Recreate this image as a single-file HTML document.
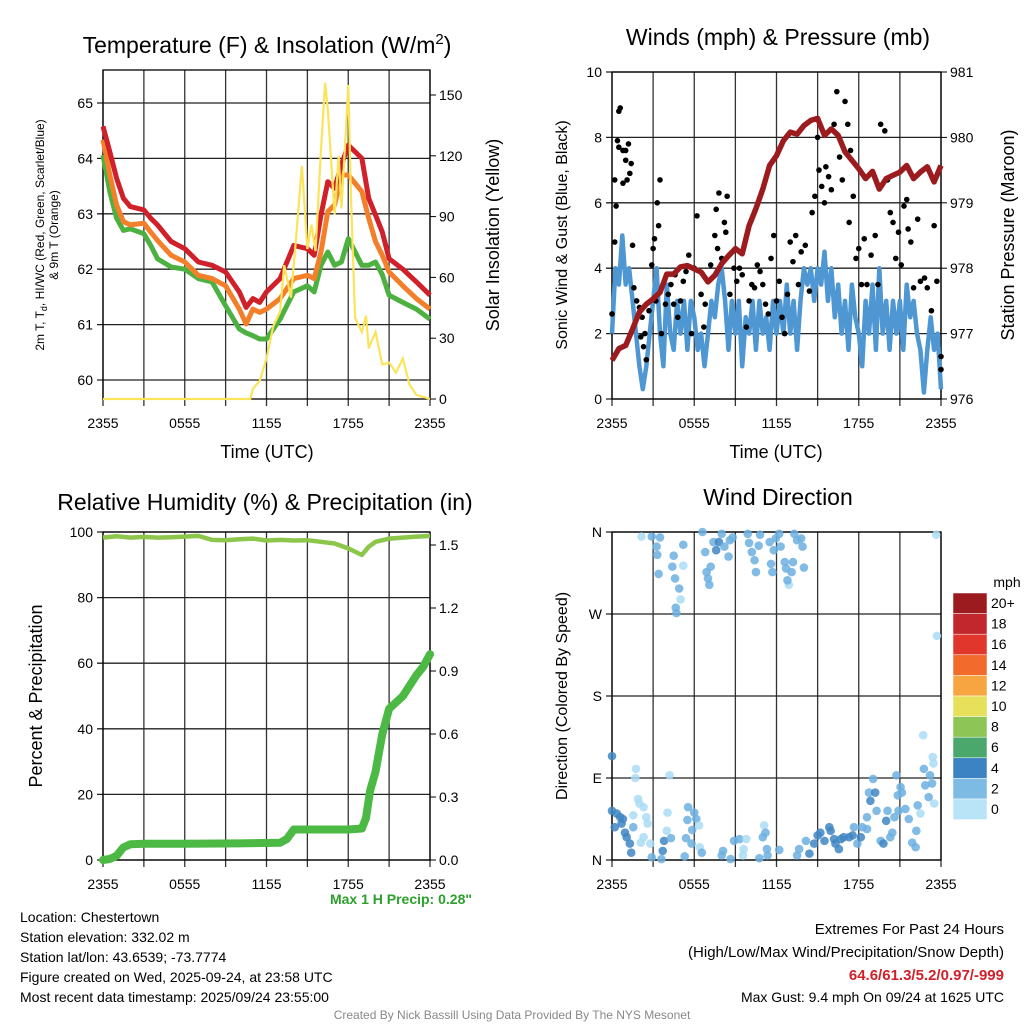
<!DOCTYPE html>
<html><head><meta charset="utf-8"><style>
html,body{margin:0;padding:0;background:#fff;}
svg{display:block;font-family:"Liberation Sans",sans-serif;}
</style></head><body>
<svg id="c" width="1024" height="1024" viewBox="0 0 1024 1024"></svg>
<script>
// ---------- DATA ----------
const tempHours=[0,0.5,1,1.5,2,3,3.5,4,5,6,7,8,9,10,10.5,11,11.5,12,13,14,15,15.5,16,16.5,17,17.5,18,19,19.5,20,20.5,21,22,23,24];
const tempRed=[64.58,64.12,63.64,63.28,63.13,63.07,62.92,62.8,62.5,62.37,62.13,62.07,61.95,61.59,61.31,61.47,61.4,61.59,61.83,62.43,62.37,62.25,62.98,63.58,63.46,63.88,64.24,64.0,63.28,62.98,62.67,62.19,62.0,61.77,61.53];
const tempOrange=[64.34,63.7,63.16,62.86,62.8,62.83,62.67,62.52,62.25,62.13,61.89,61.83,61.7,61.28,61.01,61.28,61.22,61.28,61.47,61.83,61.89,61.83,62.31,63.04,63.16,63.7,63.7,63.4,62.92,62.5,62.25,61.95,61.7,61.47,61.28];
const tempGreen=[64.06,63.4,62.92,62.7,62.73,62.64,62.43,62.19,62.04,62.0,61.83,61.77,61.34,60.92,60.85,60.8,60.74,60.74,61.1,61.59,61.7,61.59,62.07,62.31,62.07,62.13,62.55,62.07,62.07,62.13,61.9,61.53,61.4,61.28,61.1];
const solarHours=[0,10.8,11,11.5,12,12.5,13,13.3,13.8,14.2,14.6,15,15.3,15.6,16,16.3,16.5,17,17.3,17.5,17.8,18,18.2,18.5,19,19.3,19.5,20,20.5,21,21.5,22,22.5,23,24];
const solarVals=[0,0,5,9,20,36,43,66,50,82,115,74,86,73,123,156,143,91,120,94,129,155,99,40,33,41,25,33,17,18,13,20,7,2,0];
const tempTicks=[60,61,62,63,64,65];
const solarTicks=[0,30,60,90,120,150];
const timeLabels=["2355","0555","1155","1755","2355"];

const presHours=[0,0.5,1,1.5,2,2.5,3,3.5,4,4.5,5,5.5,6,6.5,7,7.5,8,8.5,9,9.5,10,10.5,11,11.5,12,12.5,13,13.5,14,14.5,15,15.5,16,16.5,17,17.5,18,18.5,19,19.5,20,20.5,21,21.5,22,22.5,23,23.5,24];
const presVals=[976.59,976.77,976.82,977.07,977.33,977.45,977.53,977.63,977.91,977.91,978.02,978.04,977.99,977.94,977.79,977.89,978.07,978.19,978.3,978.22,978.65,978.91,979.21,979.57,979.72,979.95,980.08,980.05,980.18,980.26,980.29,980.03,980.13,980.03,979.78,979.65,979.52,979.37,979.48,979.21,979.37,979.42,979.47,979.57,979.37,979.47,979.55,979.32,979.57];
const windVals=[2,4,3.5,5,3.5,4,3,2,1,0.3,1,2,3,4,2,1,3.5,2,1.5,3,2,3,1.5,3,2.5,1.5,2,1,2,3,2.5,3.5,4,3,1.5,3,2,3,1,2.5,2,3,1.5,3,2,2.5,1.5,3,2,3,2,3.5,2,3,1.5,3,4,3.5,4,3,4,3.5,4.5,3,4,2.5,3.5,2,3,1.5,3.5,2.5,2,1,3,2,3.5,1.5,4,2,3,1.5,3,2,3,1.5,3.5,2.5,3,2,1.5,0.2,1.5,2.5,1.5,2,0.3];
const gustH=[0,0.2,0.2,0.4,0.5,0.6,0.5,0.8,1,1.1,1.3,1.4,1.2,1.0,0.8,0.3,1.5,1.6,1.8,2.0,2.1,2.3,2.2,2.4,2.5,2.7,2.9,3.0,3.1,3.3,3.4,3.5,3.2,3.6,3.9,4.1,4.3,4.5,4.6,4.8,5.0,5.2,5.4,5.6,5.8,6.0,6.2,6.5,6.7,6.8,7.2,7.5,7.6,7.8,7.7,8.0,8.2,8.3,8.4,8.6,8.9,9.1,9.3,9.5,9.8,10.0,10.2,10.4,10.6,10.8,11.0,11.2,11.4,11.6,11.8,12.0,12.2,12.4,12.6,12.8,13.0,13.2,13.4,13.6,13.8,14.1,14.4,14.6,14.8,15.0,15.1,15.3,15.5,15.6,15.8,16.0,16.2,16.4,16.6,16.8,17.0,17.2,17.4,17.6,17.3,17.8,18.0,18.2,18.4,18.6,18.9,19.2,19.4,19.6,19.9,20.1,20.3,20.5,20.7,20.9,21.1,21.3,21.5,21.6,21.8,22.0,22.3,22.5,22.8,23.0,23.3,23.5,23.7,24,24];
const gustV=[2.6,4.8,6.7,7.9,8.8,8.9,7.7,7.6,7.6,6.7,6.9,7.2,7.8,7.3,6.6,5.9,4.7,3.4,3.0,2.8,1.9,1.6,2.5,2.0,1.2,2.7,4.1,4.6,4.9,6.0,5.3,6.7,3.0,2.0,2.9,3.2,3.5,2.9,3.8,2.5,3.0,3.6,3.9,4.4,2.0,4.0,5.6,3.2,2.2,2.9,4.1,5.0,5.8,6.3,4.6,4.3,5.4,5.1,6.2,3.2,4.0,3.6,4.0,3.8,2.2,3.0,3.5,3.4,4.1,3.9,3.5,2.9,2.6,4.3,5.0,3.0,3.6,2.5,2.0,3.2,4.8,4.2,5.0,3.5,4.5,4.7,3.3,5.7,6.2,8.0,7.0,6.5,6.0,7.1,6.8,6.4,8.4,9.4,7.4,6.7,9.1,8.4,7.6,6.2,5.4,4.3,4.6,3.5,4.9,3.5,4.4,5.0,3.5,8.4,8.2,6.7,5.7,5.4,4.3,5.1,4.1,5.9,6.1,5.2,4.8,3.4,5.5,3.6,3.7,3.4,2.7,5.3,3.6,0.9,1.3];
const windTicks=[0,2,4,6,8,10];
const presTicks=[976,977,978,979,980,981];

const rhHours=[0,1,2,3,4,5,6,7,8,9,10,11,12,13,14,15,16,17,18,19,19.5,20,21,22,23,24];
const rhVals=[98.3,98.7,98.3,98.5,98.3,98.4,98.6,98.8,97.6,97.5,97.8,98.0,97.4,97.6,97.4,97.5,97.0,96.5,95.0,93.0,95.5,97.0,98.0,98.3,98.6,98.8];
const precipHours=[0,0.5,1,1.5,2,3,6,10,13,13.5,14,16,18,19,19.3,19.6,20,20.5,21,21.5,22,22.5,23,23.5,24];
const precipVals=[0,0.005,0.02,0.06,0.075,0.077,0.077,0.079,0.082,0.1,0.145,0.145,0.145,0.15,0.2,0.33,0.42,0.6,0.72,0.75,0.78,0.83,0.88,0.92,0.98];
const rhTicks=[0,20,40,60,80,100];
const precipTicks=[0,0.3,0.6,0.9,1.2,1.5];

const dirH=[2.15,2.9,3.5,3.25,3.3,3.4,4.5,4.4,5.2,5.2,4.6,4.9,5.0,4.65,4.7,6.6,6.8,7.4,7.8,7.6,8.0,8.6,8.8,8.5,7.2,6.9,7.0,7.1,8.2,9.9,10.0,10.2,10.4,10.5,10.7,10.8,11.5,11.6,11.7,11.95,12.2,12.3,11.8,12.6,12.7,12.9,12.8,13.2,13.3,13.5,13.8,13.9,14.0,13.1,23.65,23.7,
0,0,0.35,0.6,0.8,0.2,0.7,0.95,1.07,1.3,1.4,1.55,1.55,1.75,1.7,1.9,2.0,2.3,2.5,2.6,2.1,2.3,2.8,2.9,3.7,3.8,3.6,4.0,4.05,4.2,4.3,5.3,5.4,5.55,5.5,5.85,6.0,6.15,6.35,6.4,6.55,5.8,8.1,8.0,8.65,8.9,9.3,9.8,9.6,9.55,10.75,11.1,11.2,11.0,11.3,11.35,12.2,13.65,13.5,14.15,14.4,14.75,15.0,15.2,15.5,15.85,15.95,16.2,16.3,16.55,16.7,16.9,17.3,17.65,17.55,17.9,18.15,18.25,18.6,18.6,18.75,18.85,19.05,19.2,19.3,19.6,19.8,20.0,20.1,20.3,20.45,20.6,20.75,20.85,21.05,21.15,20.9,21.4,21.65,21.9,22.15,22.2,22.3,22.5,22.7,22.75,22.85,23.1,23.2,23.35,23.4,23.45,23.5];
const dirDeg=[355,355,354,344,335,314,334,322,323,346,309,298,286,277,271,360,338,349,349,340,358,351,354,333,322,316,309,302,344,358,348,338,329,316,345,357,349,325,316,353,358,344,340,327,320,302,307,327,358,351,353,344,321,316,357,246,
114,54,51,47,45,36,40,30,25,18,8,49,36,100,90,67,62,58,47,40,19,25,18,3,10,21,1,32,52,93,24,4,24,58,44,33,52,45,38,14,8,18,10,5,1,21,23,23,12,5,2,38,30,25,12,5,11,12,5,21,7,18,27,30,21,36,32,23,18,12,23,25,25,36,27,18,25,36,34,47,74,65,89,74,54,21,18,43,54,25,30,47,93,71,80,74,54,56,45,19,14,32,60,51,137,100,82,69,93,84,113,106,62];
const dirSpd=[1,3,3,3,3,3,3,3,1,3,3,3,1,3,3,3,3,3,5,5,3,3,3,3,3,3,3,3,3,3,3,3,3,3,3,3,3,3,3,3,3,3,3,3,3,1,3,3,3,3,3,3,3,3,1,1,
4,4,5,5,5,5,5,5,5,5,5,1,3,1,1,1,1,1,1,1,1,1,1,3,5,5,3,1,1,1,3,3,3,3,3,3,3,3,1,1,3,3,3,3,3,3,3,1,1,1,3,1,3,3,3,3,3,3,3,3,5,5,5,5,5,5,5,5,5,5,5,5,5,3,5,3,5,3,3,3,3,5,3,5,3,3,5,5,3,3,3,3,3,3,3,3,3,3,3,3,3,3,3,1,1,3,3,3,3,3,1,1,1];
const dirLabels=["N","E","S","W","N"];
const cbLabels=["20+","18","16","14","12","10","8","6","4","2","0"];
const cbColors=["#9b1b1e","#c1272d","#e0362c","#f26a2c","#f7a541","#e6e05a","#8dc657","#4aa86c","#3b83c1","#7dbbe4","#b9e3f7"];

// ---------- DRAW ----------
const NS="http://www.w3.org/2000/svg";
const svg=document.getElementById('c');
function el(tag,attrs,parent,txt){const e=document.createElementNS(NS,tag);for(const k in attrs)e.setAttribute(k,attrs[k]);if(txt!==undefined)e.textContent=txt;(parent||svg).appendChild(e);return e;}
function lin(d0,d1,r0,r1){return v=>r0+(v-d0)*(r1-r0)/(d1-d0);}
function grp(name){const g=el('g',{});return g;}
function pathD(xs,ys,fx,fy){return xs.map((h,i)=>(i?'L':'M')+fx(h).toFixed(1)+','+fy(ys[i]).toFixed(1)).join('');}

function frame(name,L,T,R,B,yTicksL,fyL,yTicksR,fyR,labelsL,labelsR){
  const g=grp(name);
  const fx=lin(0,24,L,R);
  for(let h=0;h<=24;h+=3){const x=fx(h);el('line',{x1:x,y1:T,x2:x,y2:B+7,stroke:'#333','stroke-width':1.3},g);}
  yTicksL.forEach(v=>{const y=fyL(v);el('line',{x1:L-6,y1:y,x2:R,y2:y,stroke:'#222','stroke-width':1.3},g);});
  el('rect',{x:L,y:T,width:R-L,height:B-T,fill:'none',stroke:'#000','stroke-width':1.3},g);
  for(let i=0;i<5;i++){const t=el('text',{x:fx(i*6),y:B+29,'font-size':14,'text-anchor':'middle'},g,timeLabels[i]);}
  yTicksL.forEach((v,i)=>{const t=el('text',{x:L-10,y:fyL(v)+5,'font-size':14,'text-anchor':'end'},g,labelsL[i]);});
  if(yTicksR) yTicksR.forEach((v,i)=>{el('line',{x1:R,y1:fyR(v),x2:R+6,y2:fyR(v),stroke:'#000'},g);const t=el('text',{x:R+9,y:fyR(v)+5,'font-size':14},g,labelsR[i]);});
  return fx;
}
function txt(name,x,y,s,size,extra){const t=el('text',Object.assign({x:x,y:y,'font-size':size,'text-anchor':'middle'},extra||{}),svg,s);return t;}
function vtxt(name,x,y,s,size){const t=el('text',{x:x,y:y,'font-size':size,'text-anchor':'middle',transform:`rotate(-90 ${x} ${y})`},svg,s);return t;}

// Panel 1
{
const fyT=lin(60,65,380,103), fyS=lin(0,150,399,95);
const fx=frame('temperature-panel',103,70,430,399,tempTicks,fyT,solarTicks,fyS,tempTicks.map(String),solarTicks.map(String));
const g=grp('temperature-series');
const p1=el('path',{d:pathD(tempHours,tempGreen,fx,fyT),fill:'none',stroke:'#4cb140','stroke-width':5,'stroke-linejoin':'round'},g);
const p2=el('path',{d:pathD(tempHours,tempOrange,fx,fyT),fill:'none',stroke:'#f47f2a','stroke-width':5,'stroke-linejoin':'round'},g);
const p3=el('path',{d:pathD(tempHours,tempRed,fx,fyT),fill:'none',stroke:'#d0202a','stroke-width':5,'stroke-linejoin':'round'},g);
const p4=el('path',{d:pathD(solarHours,solarVals,fx,fyS),fill:'none',stroke:'#fbe35a','stroke-width':2.2},g);
txt('temperature-title',267,53,'',23).innerHTML='Temperature (F) &amp; Insolation (W/m<tspan dy="-9" font-size="15">2</tspan><tspan dy="9">)</tspan>';
txt('x-axis-title',267,458,'Time (UTC)',18);
const t=el('text',{'font-size':12,'text-anchor':'middle',transform:'translate(44,235) rotate(-90)'});
el('tspan',{x:0,y:0},t).innerHTML='2m T, T<tspan dy="3" font-size="9">d</tspan><tspan dy="-3">, HI/WC (Red, Green, Scarlet/Blue)</tspan>';
el('tspan',{x:0,y:14},t,'& 9m T (Orange)');
vtxt('solar-axis-title',499,235,'Solar Insolation (Yellow)',18);
}
// Panel 2
{
const fyW=lin(0,10,399,72), fyP=lin(976,981,399,72);
const fx=frame('winds-panel',612,72,941,399,windTicks,fyW,presTicks,fyP,windTicks.map(String),presTicks.map(String));
const g=grp('wind-series');
const wh=windVals.map((v,i)=>i*0.25);
const w=el('path',{d:pathD(wh,windVals,fx,fyW),fill:'none',stroke:'#4f97d3','stroke-width':4.5,'stroke-linejoin':'round'},g);
gustH.forEach((h,i)=>{const c=el('circle',{cx:fx(h),cy:fyW(gustV[i]),r:2.8,fill:'#000'},g);});
const p=el('path',{d:pathD(presHours,presVals,fx,fyP),fill:'none',stroke:'#9b1b1e','stroke-width':5.5,'stroke-linejoin':'round'},g);
txt('winds-title',778,45,'Winds (mph) & Pressure (mb)',23);
txt('x-axis-title-2',776,458,'Time (UTC)',18);
vtxt('wind-axis-title',567,235,'Sonic Wind & Gust (Blue, Black)',16);
vtxt('pressure-axis-title',1014,235,'Station Pressure (Maroon)',18);
}
// Panel 3
{
const fyR=lin(0,100,860,532), fyP=lin(0,1.5,860,545);
const fx=frame('humidity-panel',103,532,430,860,rhTicks,fyR,precipTicks,fyP,rhTicks.map(String),precipTicks.map(v=>v.toFixed(1)));
const g=grp('humidity-series');
const r=el('path',{d:pathD(rhHours,rhVals,fx,fyR),fill:'none',stroke:'#8cc64a','stroke-width':4.5,'stroke-linejoin':'round'},g);
const p=el('path',{d:pathD(precipHours,precipVals,fx,fyP),fill:'none',stroke:'#4cb944','stroke-width':8,'stroke-linejoin':'round','stroke-linecap':'round'},g);
txt('humidity-title',265,510,'Relative Humidity (%) & Precipitation (in)',23);
vtxt('percent-axis-title',42,696,'Percent & Precipitation',18);
txt('max-precip-label',472,904,'Max 1 H Precip: 0.28"',14,{'text-anchor':'end','font-weight':'bold',fill:'#2ca02c'});
}
// Panel 4
{
const fyD=lin(0,360,860,532);
const fx=frame('wind-direction-panel',612,532,941,860,[0,90,180,270,360],fyD,null,null,dirLabels,null);
const g=grp('direction-points');
const col={1:'#a9dcf5',3:'#6cb0e0',4:'#3f86c2',5:'#3f86c2'};
dirH.forEach((h,i)=>{const c=el('circle',{cx:fx(h),cy:fyD(dirDeg[i]),r:4.3,fill:col[dirSpd[i]],'fill-opacity':0.85},g);});
txt('direction-title',778,505,'Wind Direction',23);
vtxt('direction-axis-title',567,696,'Direction (Colored By Speed)',16);
const cb=grp('speed-colorbar');
cbColors.forEach((c,i)=>{const y=593+i*20.6;const r=el('rect',{x:953,y:y,width:34,height:20.6,fill:c,stroke:'#fff','stroke-width':0.5},cb);
 const t=el('text',{x:991,y:y+15,'font-size':14},cb,cbLabels[i]);});
txt('colorbar-unit',1007,587,'mph',14);
}
const info=["Location: Chestertown","Station elevation: 332.02 m","Station lat/lon: 43.6539; -73.7774","Figure created on Wed, 2025-09-24, at 23:58 UTC","Most recent data timestamp: 2025/09/24 23:55:00"];
info.forEach((s,i)=>txt('station-info-line',20,922+i*20,s,14,{'text-anchor':'start'}));
txt('extremes-title',1004,934,'Extremes For Past 24 Hours',15,{'text-anchor':'end'});
txt('extremes-legend',1004,957,'(High/Low/Max Wind/Precipitation/Snow Depth)',15,{'text-anchor':'end'});
txt('extremes-values',1004,980,'64.6/61.3/5.2/0.97/-999',15,{'text-anchor':'end','font-weight':'bold',fill:'#d0202a'});
txt('max-gust',1004,1002,'Max Gust: 9.4 mph On 09/24 at 1625 UTC',14,{'text-anchor':'end'});
txt('credit',512,1019,'Created By Nick Bassill Using Data Provided By The NYS Mesonet',12,{fill:'#888'});
</script>
</body></html>
